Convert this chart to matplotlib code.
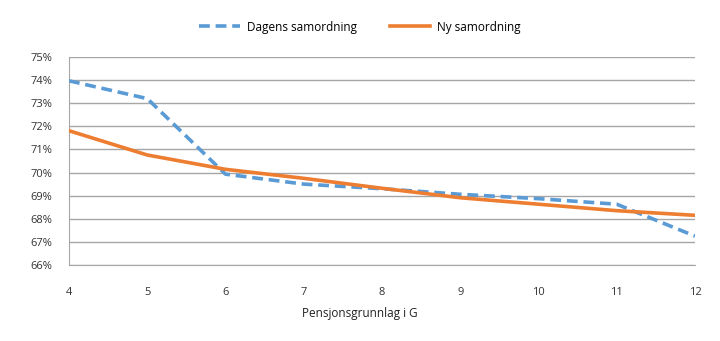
import numpy as np
import matplotlib.pyplot as plt
from matplotlib.ticker import FuncFormatter

# ==== DATA ====
grunnlag = [4, 5, 6, 7, 8, 9, 10, 11, 12]
dagens   = [73.97, 73.2, 69.93, 69.5, 69.3, 69.06, 68.87, 68.63, 67.25]
ny       = [71.81, 70.76, 70.14, 69.75, 69.32, 68.91, 68.63, 68.35, 68.15]
yticks   = list(range(66, 76))

BLUE   = "#5B9BD5"
ORANGE = "#ED7D31"
GRID   = "#A6A6A6"

plt.rcParams['font.family'] = ['Open Sans', 'DejaVu Sans']

fig = plt.figure(figsize=(7.2, 3.41), dpi=100)
ax = fig.add_axes([69 / 720, 1 - 265 / 341, (695 - 69) / 720, (265 - 57) / 341])

ax.plot(grunnlag, dagens, color=BLUE, lw=2.6, linestyle=(0, (3, 1.6)),
        label="Dagens samordning", zorder=3)
ax.plot(grunnlag, ny, color=ORANGE, lw=2.6, label="Ny samordning", zorder=3)

ax.set_xlim(4, 12)
ax.set_ylim(66, 75)
ax.set_xticks(grunnlag)
ax.set_yticks(yticks)
ax.yaxis.set_major_formatter(FuncFormatter(lambda v, p: f"{v:.0f}%"))
ax.grid(axis='y', color=GRID, lw=1)
ax.set_axisbelow(True)

for s in ("top", "right"):
    ax.spines[s].set_visible(False)
for s in ("left", "bottom"):
    ax.spines[s].set_color(GRID)
ax.tick_params(length=0, labelsize=8, colors="#333333")
ax.tick_params(axis='x', pad=16)
ax.tick_params(axis='y', pad=12)

ax.set_xlabel("Pensjonsgrunnlag i G", fontsize=8.5, color="#222222")
ax.xaxis.set_label_coords((360 - 69) / 626, -(307 - 265) / 208)

fig.legend(loc="center", bbox_to_anchor=(0.5, 1 - 27 / 341), ncol=2,
           frameon=False, fontsize=8.5, handlelength=3.4, columnspacing=2.8,
           handletextpad=0.6)

plt.savefig("out.png", dpi=100)
